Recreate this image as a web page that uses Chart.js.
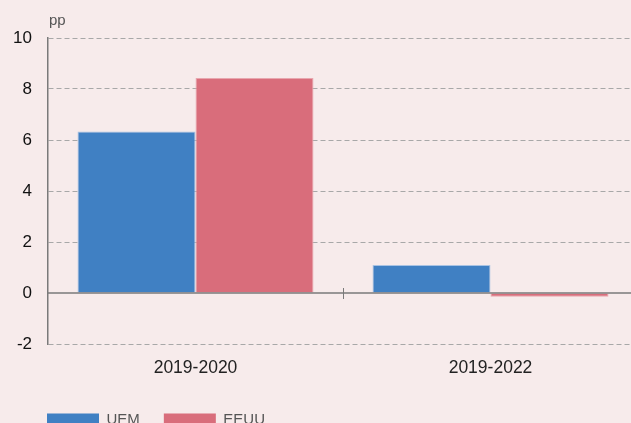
<!DOCTYPE html>
<html>
<head>
<meta charset="utf-8">
<script src="https://cdn.jsdelivr.net/npm/chart.js@4/dist/chart.umd.min.js"></script>
<style>
html,body{margin:0;padding:0;overflow:hidden;background:#f7ebeb;width:631px;height:423px;}
#wrap{position:absolute;left:0;top:0;width:638px;height:437px;}
</style>
</head>
<body>
<div id="wrap"><canvas id="c" width="638" height="437"></canvas></div>
<script>
const categories = ["2019-2020", "2019-2022"];
const seriesNames = ["UEM", "EEUU"];
const uemValues = [6.33, 1.1];
const eeuuValues = [8.43, -0.15];
const yTicks = [-2, 0, 2, 4, 6, 8, 10];
const unitLabel = "pp";

const BLUE = "#4080c3";
const RED = "#d96d7b";
const FONT = "'Liberation Sans', Arial, sans-serif";

const extras = {
  id: "extras",
  afterLayout(chart) {
    if (chart.legend) {
      chart.legend.left = 23;
    }
  },
  beforeDraw(chart) {
    const ctx = chart.ctx;
    ctx.save();
    ctx.fillStyle = "#f7ebeb";
    ctx.fillRect(0, 0, chart.width, chart.height);
    ctx.restore();
  },
  afterDatasetsDraw(chart) {
    const ctx = chart.ctx;
    const y = chart.scales.y, x = chart.scales.x;
    const a = chart.chartArea;
    const y0 = y.getPixelForValue(0);
    ctx.save();
    ctx.strokeStyle = "#7a7a7a";
    ctx.lineWidth = 1.5;
    ctx.beginPath();
    ctx.moveTo(a.left, y0);
    ctx.lineTo(a.right, y0);
    ctx.stroke();
    // category separator tick
    const xs = (x.getPixelForValue(0) + x.getPixelForValue(1)) / 2;
    ctx.lineWidth = 1;
    ctx.beginPath();
    ctx.moveTo(Math.round(xs) + 0.5, y0 - 5);
    ctx.lineTo(Math.round(xs) + 0.5, y0 + 6);
    ctx.stroke();
    // unit label
    ctx.fillStyle = "#555";
    ctx.font = "15px " + FONT;
    ctx.textAlign = "left";
    ctx.textBaseline = "alphabetic";
    ctx.fillText(unitLabel, a.left + 1, 25);
    ctx.restore();
  }
};

new Chart(document.getElementById("c"), {
  type: "bar",
  data: {
    labels: categories,
    datasets: [
      { label: seriesNames[0], data: uemValues, backgroundColor: BLUE, borderColor: "#a9c3e3", borderWidth: 1 },
      { label: seriesNames[1], data: eeuuValues, backgroundColor: RED, borderColor: "#e8a6ae", borderWidth: 1 }
    ]
  },
  options: {
    responsive: false,
    animation: false,
    devicePixelRatio: 1,
    layout: { padding: { left: 0, right: 0, top: 38, bottom: 0 } },
    datasets: { bar: { categoryPercentage: 0.8, barPercentage: 1.0 } },
    plugins: {
      legend: {
        position: "bottom",
        align: "start",
        labels: {
          boxWidth: 52,
          boxHeight: 12,
          padding: 24,
          color: "#555",
          font: { family: "'Liberation Sans Narrow', 'Liberation Sans', Arial, sans-serif", size: 15 },
          generateLabels(chart) {
            return chart.data.datasets.map((d, i) => ({
              text: d.label,
              fillStyle: d.backgroundColor,
              strokeStyle: d.backgroundColor,
              lineWidth: 0,
              fontColor: "#555",
              hidden: false,
              datasetIndex: i
            }));
          }
        }
      },
      tooltip: { enabled: false }
    },
    scales: {
      x: {
        grid: { display: false },
        border: { display: false },
        ticks: { color: "#222", font: { family: FONT, size: 17.5 }, padding: 6 },
        afterFit(s) { s.height = 44; }
      },
      y: {
        min: -2,
        max: 10,
        afterBuildTicks(s) { s.ticks = yTicks.map(v => ({ value: v })); },
        ticks: { color: "#111", font: { family: FONT, size: 17 }, padding: 16 },
        grid: {
          drawTicks: false,
          color: ctx => (ctx.tick && ctx.tick.value === 0) ? "rgba(0,0,0,0)" : "#a8a8a8",
          lineWidth: 1
        },
        border: { display: true, color: "#7a7a7a", width: 1.5, dash: [5, 3] },
        afterFit(s) { s.width = 48; }
      }
    }
  },
  plugins: [extras]
});
</script>
</body>
</html>
